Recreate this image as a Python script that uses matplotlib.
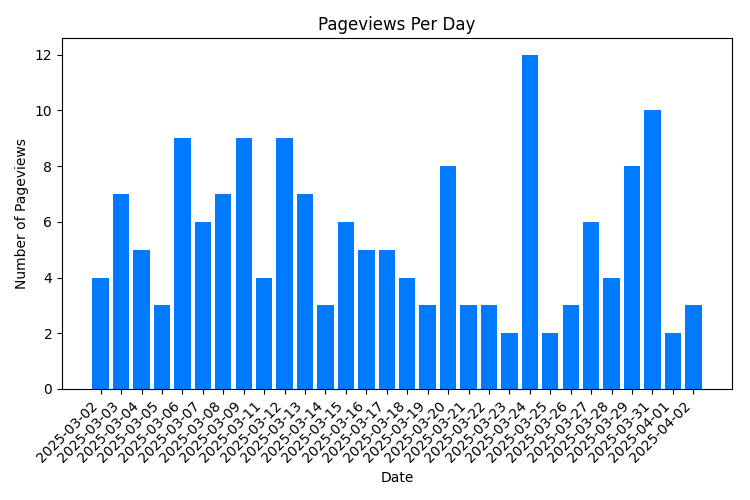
import matplotlib
matplotlib.use('Agg')
import matplotlib.pyplot as plt

# Pageviews per day
dates = ['2025-03-02', '2025-03-03', '2025-03-04', '2025-03-05', '2025-03-06',
         '2025-03-07', '2025-03-08', '2025-03-09', '2025-03-11', '2025-03-12',
         '2025-03-13', '2025-03-14', '2025-03-15', '2025-03-16', '2025-03-17',
         '2025-03-18', '2025-03-19', '2025-03-20', '2025-03-21', '2025-03-22',
         '2025-03-23', '2025-03-24', '2025-03-25', '2025-03-26', '2025-03-27',
         '2025-03-28', '2025-03-29', '2025-03-31', '2025-04-01', '2025-04-02']
views = [4, 7, 5, 3, 9, 6, 7, 9, 4, 9, 7, 3, 6, 5, 5, 4, 3, 8, 3, 3,
         2, 12, 2, 3, 6, 4, 8, 10, 2, 3]

plt.figure(figsize=(7.5, 5), dpi=100)
plt.bar(dates, views, color='#007bff')
plt.xlabel('Date')
plt.ylabel('Number of Pageviews')
plt.title('Pageviews Per Day')
plt.xticks(rotation=45, ha='right')
plt.subplots_adjust(left=62/750, right=732/750, top=1-38/500, bottom=1-389/500)
plt.savefig('out.png')
